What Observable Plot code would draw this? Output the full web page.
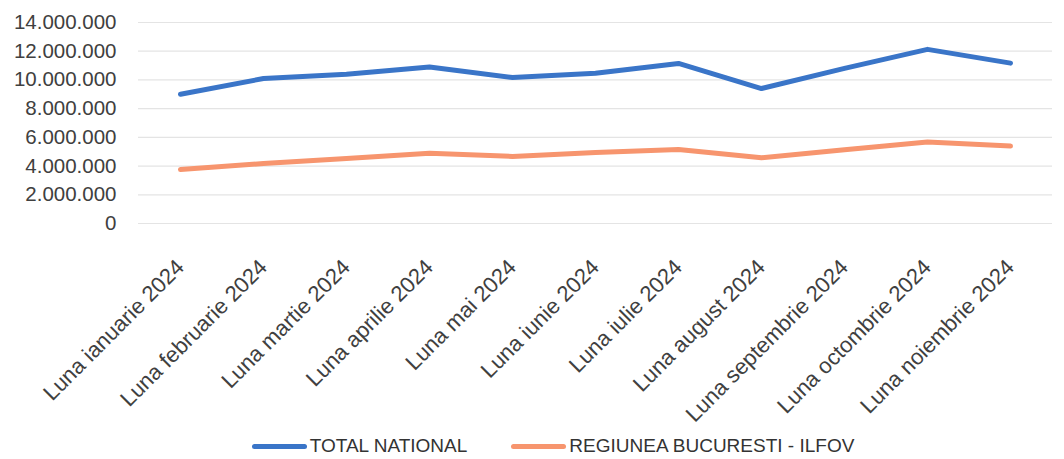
<!DOCTYPE html>
<html><head><meta charset="utf-8">
<script src="https://cdn.jsdelivr.net/npm/d3@7"></script>
<script src="https://cdn.jsdelivr.net/npm/@observablehq/plot@0.6"></script>
<style>
body{margin:0;background:#fff;font-family:"Liberation Sans",Arial,sans-serif;}
#legend{display:flex;justify-content:center;gap:44px;font-size:19px;color:#333;height:26px;align-items:center;margin-left:42px;margin-top:4px;}
.item{display:flex;align-items:center;}
.sw{display:inline-block;width:55px;height:5px;border-radius:3px;margin-right:3px;}
</style></head>
<body><div id="chart"></div><div id="legend"></div>
<script>
const months = ["Luna ianuarie 2024","Luna februarie 2024","Luna martie 2024","Luna aprilie 2024","Luna mai 2024","Luna iunie 2024","Luna iulie 2024","Luna august 2024","Luna septembrie 2024","Luna octombrie 2024","Luna noiembrie 2024"];
const totalNational = [9000000,10100000,10400000,10900000,10170000,10470000,11150000,9400000,10800000,12130000,11170000];
const bucurestiIlfov = [3760000,4180000,4530000,4900000,4670000,4950000,5160000,4580000,5140000,5670000,5390000];
const seriesNames = ["TOTAL NATIONAL","REGIUNEA BUCURESTI - ILFOV"];
const seriesColors = ["#3a75c8","#f7956e"];
const yTicks = [0,2000000,4000000,6000000,8000000,10000000,12000000,14000000];

const data = [];
months.forEach((m,i)=>{
  data.push({month:m, value:totalNational[i], series:seriesNames[0]});
  data.push({month:m, value:bucurestiIlfov[i], series:seriesNames[1]});
});
const fmt = v => v === 0 ? "0" : d3.format(",")(v).replace(/,/g,".");

const chart = Plot.plot({
  width:1064, height:429,
  marginLeft:138, marginRight:12, marginTop:22, marginBottom:206,
  style:{fontFamily:"'Liberation Sans', Arial, sans-serif", fontSize:"20px", color:"#404040", background:"#fff"},
  x:{type:"point", domain:months, padding:0.5, label:null},
  y:{domain:[0,14000000], label:null},
  color:{domain:seriesNames, range:seriesColors},
  marks:[
    Plot.ruleY(yTicks,{stroke:"#e4e4e4", strokeWidth:1.2}),
    Plot.axisY({ticks:yTicks, tickFormat:fmt, tickSize:0, tickPadding:22, fontSize:20.5, label:null}),
    Plot.axisX({tickSize:0, tickRotate:-45, tickPadding:40, fontSize:22, label:null}),
    Plot.line(data,{x:"month", y:"value", z:"series", stroke:"series", strokeWidth:5, strokeLinejoin:"round", strokeLinecap:"round"})
  ]
});
document.getElementById("chart").appendChild(chart);

const lg = document.getElementById("legend");
seriesNames.forEach((n,i)=>{
  const it=document.createElement("span"); it.className="item";
  const sw=document.createElement("span"); sw.className="sw"; sw.style.background=seriesColors[i];
  it.appendChild(sw); it.appendChild(document.createTextNode(n)); lg.appendChild(it);
});
</script></body></html>
